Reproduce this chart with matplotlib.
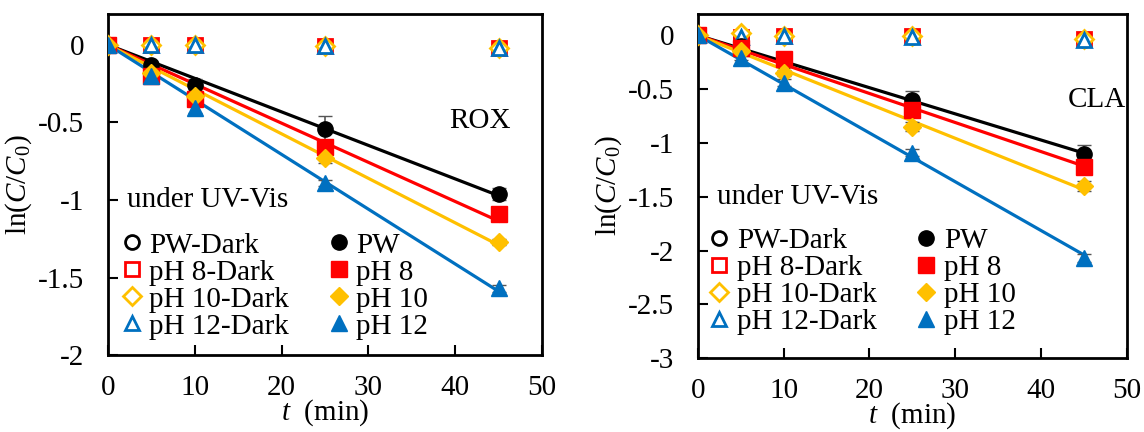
import matplotlib.pyplot as plt
import numpy as np

plt.rcParams['font.family'] = 'Liberation Serif'
plt.rcParams['mathtext.fontset'] = 'custom'
plt.rcParams['mathtext.rm'] = 'Liberation Serif'
plt.rcParams['mathtext.it'] = 'Liberation Serif:italic'
plt.rcParams['font.size'] = 21

t = [0, 5, 10, 25, 45]
labels = ['PW', 'pH 8', 'pH 10', 'pH 12']
colors = ['black', '#FF0000', '#FFC000', '#0070C0']
markers = ['o', 's', 'D', '^']

# ROX
rox_dark = [
    [0, 0.0, 0.0, -0.01, -0.02],
    [0, 0.0, 0.0, -0.01, -0.02],
    [0, 0.0, 0.0, -0.01, -0.02],
    [0, 0.0, 0.0, -0.01, -0.02],
]
rox_uv = [
    [0, -0.13, -0.26, -0.54, -0.96],
    [0, -0.20, -0.35, -0.66, -1.09],
    [0, -0.18, -0.33, -0.73, -1.27],
    [0, -0.20, -0.41, -0.89, -1.57],
]
rox_err = [
    [0, 0.02, 0.04, 0.08, 0.04],
    [0, 0.02, 0.03, 0.03, 0.03],
    [0, 0.02, 0.03, 0.03, 0.02],
    [0, 0.02, 0.03, 0.02, 0.02],
]

# CLA
cla_dark = [
    [0, -0.02, -0.01, -0.02, -0.04],
    [0, -0.02, -0.01, -0.01, -0.03],
    [0, 0.02, -0.01, -0.01, -0.03],
    [0, -0.02, -0.01, -0.02, -0.04],
]
cla_uv = [
    [0, -0.10, -0.25, -0.60, -1.10],
    [0, -0.12, -0.22, -0.69, -1.22],
    [0, -0.15, -0.35, -0.85, -1.40],
    [0, -0.21, -0.44, -1.09, -2.07],
]
cla_err = [
    [0, 0.02, 0.03, 0.08, 0.08],
    [0, 0.02, 0.03, 0.04, 0.04],
    [0, 0.02, 0.03, 0.04, 0.05],
    [0, 0.02, 0.03, 0.03, 0.04],
]

fig = plt.figure(figsize=(11.44, 4.32), dpi=100)
ax1 = fig.add_axes([0.0944, 0.178, 0.3794, 0.790])
ax2 = fig.add_axes([0.610, 0.171, 0.375, 0.797])


def draw(ax, dark, uv, err, ylim, yticks, name, name_xy, uv_xy, leg_anchor):
    tt = np.array(t, dtype=float)
    handles_dark = []
    handles_uv = []
    for i in range(4):
        h, = ax.plot(t, dark[i], linestyle='none', marker=markers[i], ms=10 if markers[i] != 'D' else 9,
                     mfc='white', mec=colors[i], mew=2, zorder=3)
        handles_dark.append(h)
    for i in range(4):
        y = np.array(uv[i])
        k = np.sum(tt * y) / np.sum(tt * tt)
        ax.plot([0, 45], [0, 45 * k], color=colors[i], lw=2.3, zorder=2)
        ax.errorbar(t, uv[i], yerr=err[i], fmt='none', ecolor='#555555', elinewidth=1.2,
                    capsize=5, zorder=2)
        h, = ax.plot(t, uv[i], linestyle='none', marker=markers[i],
                     ms=11 if markers[i] != 'D' else 9.5, color=colors[i], zorder=4)
        handles_uv.append(h)
    ax.set_xlim(0, 50)
    ax.set_ylim(*ylim)
    ax.set_xticks([0, 10, 20, 30, 40, 50])
    ax.set_yticks(yticks)
    ax.set_yticklabels([('%g' % v) for v in yticks])
    ax.tick_params(direction='in', length=7, width=1.5, top=False, right=False)
    ax.tick_params(axis='x', pad=14)
    ax.tick_params(axis='y', pad=17)
    for s in ax.spines.values():
        s.set_linewidth(2)
    ax.set_xlabel('$t$  (min)', labelpad=-2)
    ax.set_ylabel('ln($C$/$C_0$)', labelpad=3)
    ax.text(name_xy[0], name_xy[1], name, ha='center', va='center')
    ax.text(uv_xy[0], uv_xy[1], 'under UV-Vis', ha='left', va='center')
    ax.legend(handles_dark + handles_uv,
              [l + '-Dark' for l in labels] + labels,
              ncol=2, loc='upper left', bbox_to_anchor=leg_anchor, frameon=False,
              handlelength=0.6, handletextpad=0.3, columnspacing=1.4,
              labelspacing=0.02, borderpad=0, borderaxespad=0)


draw(ax1, rox_dark, rox_uv, rox_err, (-2, 0.2), [0, -0.5, -1, -1.5, -2], 'ROX',
     (42.9, -0.49), (2.2, -1.0), (0.035, 0.36))
draw(ax2, cla_dark, cla_uv, cla_err, (-3, 0.2), [0, -0.5, -1, -1.5, -2, -2.5, -3], 'CLA',
     (46.5, -0.6), (2.2, -1.5), (0.03, 0.378))

fig.savefig('out.png', dpi=100)
